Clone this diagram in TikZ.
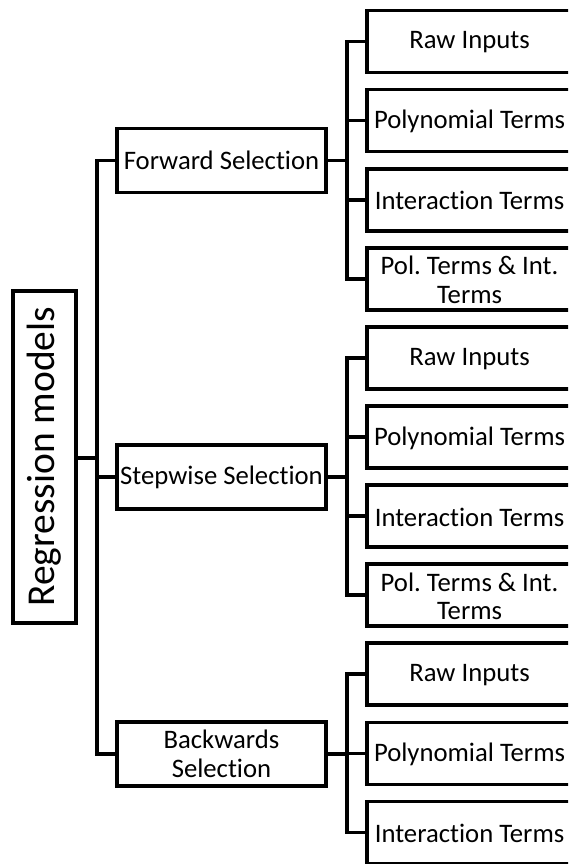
\documentclass[tikz,border=0pt]{standalone}
\usepackage{fontspec}
\setmainfont[Ligatures=NoCommon]{Carlito}
\begin{document}
\frenchspacing
\begin{tikzpicture}[x=1pt,y=-1pt,
  line width=3.7pt,
  box/.style={draw, rectangle, inner sep=0pt},
  midbox/.style={box, minimum width=209pt, minimum height=64pt,
    align=center, font=\fontsize{26.7}{28.4}\selectfont},
  leafbox/.style={box, minimum width=230pt, minimum height=62pt},
  leaftext/.style={inner sep=0pt, align=center,
    font=\fontsize{26.7}{28.4}\selectfont},
  rootbox/.style={box, minimum width=332pt, minimum height=63.4pt,
    rotate=90, font=\fontsize{39.5}{44}\selectfont}]
\useasboundingbox (0,0) rectangle (568,864);
\clip (0,0) rectangle (568,864);

% root
\node[rootbox] (root) at (44.4,456.7) {Regression models};

% selection methods
\node[midbox] (fwd) at (221.5,160.4) {Forward Selection};
\node[midbox] (stp) at (221.5,477.2) {Stepwise Selection};
\node[midbox] (bwd) at (221.5,753.9) {Backwards\\Selection};

% trunk
\coordinate (tk) at (97,0);
\draw (fwd.west) -- (fwd.west -| tk) -- (bwd.west -| tk) -- (bwd.west);
\draw (stp.west) -- (stp.west -| tk);
\draw ([yshift=-1.5pt]root.south) -- ([yshift=-1.5pt]root.south -| tk);

% leaves
\foreach \k/\txt in {0/Raw Inputs,1/Polynomial Terms,2/Interaction Terms,3/{Pol. Terms \& Int.\\Terms},
                     4/Raw Inputs,5/Polynomial Terms,6/Interaction Terms,7/{Pol. Terms \& Int.\\Terms},
                     8/Raw Inputs,9/Polynomial Terms,10/Interaction Terms}{
  \node[leafbox] (l\k) at (481.9,41.5+\k*79.1) {};
  \node[leaftext] (t\k) at ([xshift=104.5pt,yshift=-1pt]l\k.west) {\txt};
}

% brackets
\coordinate (br) at (347,0);
\foreach \m/\a/\b in {fwd/0/3,stp/4/7,bwd/8/10}{
  \draw (\m.east) -- (\m.east -| br);
  \draw (l\a.west) -- (l\a.west -| br) -- (l\b.west -| br) -- (l\b.west);
}
\foreach \k in {1,2,5,6,9}{
  \draw (l\k.west) -- (l\k.west -| br);
}
\end{tikzpicture}
\end{document}
